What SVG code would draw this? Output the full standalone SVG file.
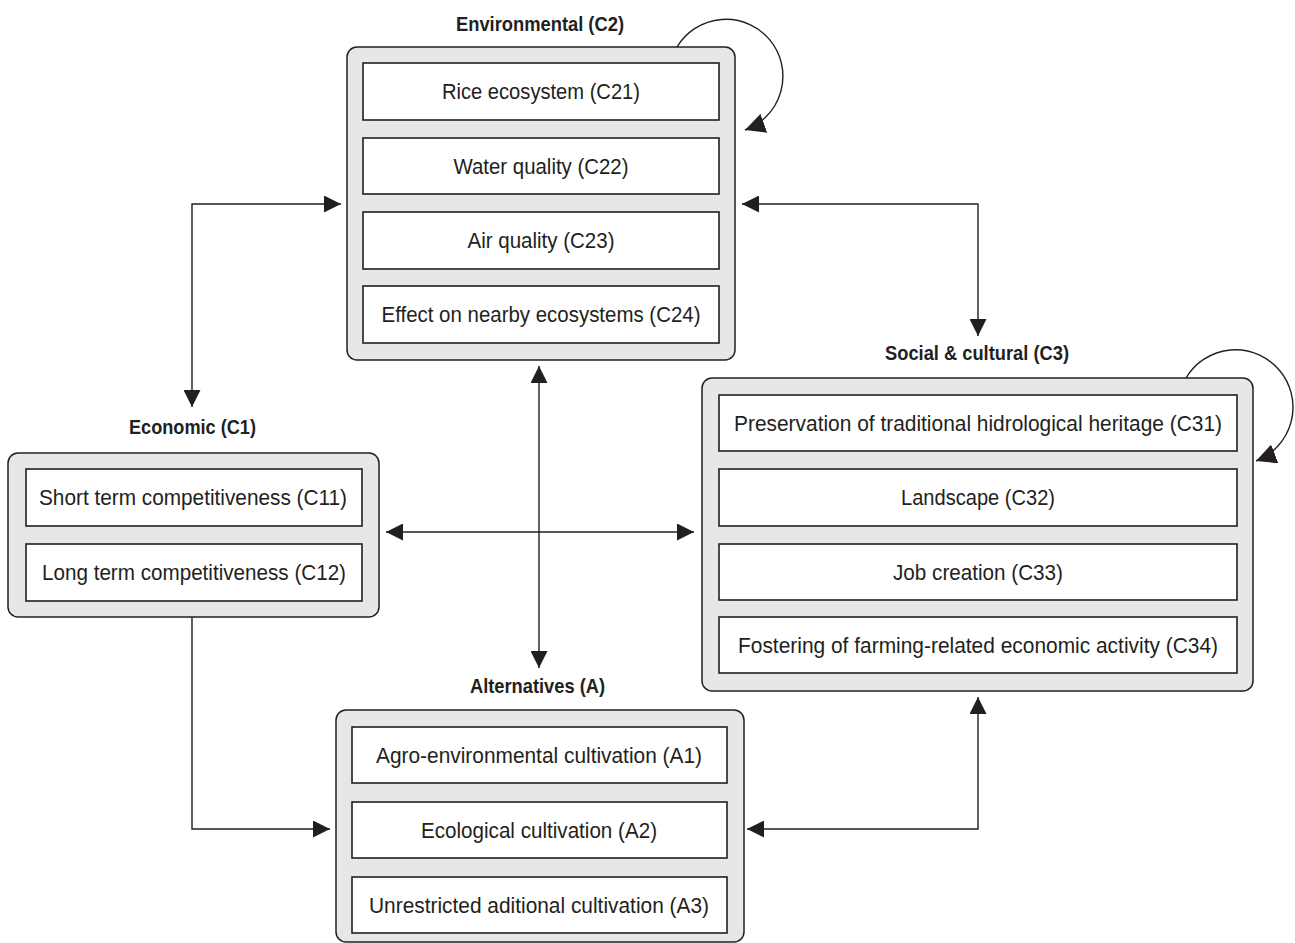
<svg xmlns="http://www.w3.org/2000/svg" width="1295" height="943" viewBox="0 0 1295 943">
<style>
.outer{fill:#e6e7e8;stroke:#231f20;stroke-width:1.5}
.inner{fill:#ffffff;stroke:#231f20;stroke-width:1.6}
.t{font-family:"Liberation Sans Narrow","Liberation Sans",Arial,sans-serif;font-size:21.5px;fill:#231f20;text-anchor:middle}
.h{font-family:"Liberation Sans Narrow","Liberation Sans",Arial,sans-serif;font-size:21px;font-weight:bold;fill:#231f20;text-anchor:middle}
.c{fill:none;stroke:#231f20;stroke-width:1.4}
</style>
<defs>
<marker id="ah" viewBox="0 0 17 17" refX="17" refY="8.5" markerWidth="17" markerHeight="17" markerUnits="userSpaceOnUse" orient="auto-start-reverse">
<path d="M0,0 L17,8.5 L0,17 z" fill="#231f20"/>
</marker>
<marker id="ahl" viewBox="0 0 17 17" refX="17" refY="8.5" markerWidth="20" markerHeight="20" markerUnits="userSpaceOnUse" orient="auto">
<path d="M0,0 L17,8.5 L0,17 z" fill="#231f20"/>
</marker>
</defs>
<rect width="1295" height="943" fill="#ffffff"/>
<g id="connectors">
<path class="c" d="M341,204 H192 V407" marker-start="url(#ah)" marker-end="url(#ah)"/>
<path class="c" d="M742,204 H978 V336" marker-start="url(#ah)" marker-end="url(#ah)"/>
<path class="c" d="M539,366 V668" marker-start="url(#ah)" marker-end="url(#ah)"/>
<path class="c" d="M386,532 H694" marker-start="url(#ah)" marker-end="url(#ah)"/>
<path class="c" d="M192,617 V829 H330" marker-end="url(#ah)"/>
<path class="c" d="M747,829 H978 V697" marker-start="url(#ah)" marker-end="url(#ah)"/>
<path class="c" d="M677,47 A57,57 0 1 1 745,130" marker-end="url(#ahl)"/>
<path class="c" d="M1186,378 A57.5,57.5 0 1 1 1256,461" marker-end="url(#ahl)"/>
</g>
<g id="C2">
<rect class="outer" x="347" y="47" width="388" height="313" rx="10"/>
<text class="h" x="540" y="31" textLength="168" lengthAdjust="spacingAndGlyphs">Environmental (C2)</text>
<rect class="inner" x="363" y="63" width="356" height="57"/>
<text class="t" x="541" y="99" textLength="198" lengthAdjust="spacingAndGlyphs">Rice ecosystem (C21)</text>
<rect class="inner" x="363" y="138" width="356" height="56"/>
<text class="t" x="541" y="173.5" textLength="175" lengthAdjust="spacingAndGlyphs">Water quality (C22)</text>
<rect class="inner" x="363" y="212" width="356" height="57"/>
<text class="t" x="541" y="248" textLength="147" lengthAdjust="spacingAndGlyphs">Air quality (C23)</text>
<rect class="inner" x="363" y="286" width="356" height="57"/>
<text class="t" x="541" y="322" textLength="319" lengthAdjust="spacingAndGlyphs">Effect on nearby ecosystems (C24)</text>
</g>
<g id="C3">
<rect class="outer" x="702" y="378" width="551" height="313" rx="10"/>
<text class="h" x="977" y="360" textLength="184" lengthAdjust="spacingAndGlyphs">Social &amp; cultural (C3)</text>
<rect class="inner" x="719" y="395" width="518" height="56"/>
<text class="t" x="978" y="430.5" textLength="488" lengthAdjust="spacingAndGlyphs">Preservation of traditional hidrological heritage (C31)</text>
<rect class="inner" x="719" y="469" width="518" height="57"/>
<text class="t" x="978" y="505" textLength="154" lengthAdjust="spacingAndGlyphs">Landscape (C32)</text>
<rect class="inner" x="719" y="544" width="518" height="56"/>
<text class="t" x="978" y="579.5" textLength="170" lengthAdjust="spacingAndGlyphs">Job creation (C33)</text>
<rect class="inner" x="719" y="617" width="518" height="56"/>
<text class="t" x="978" y="652.5" textLength="480" lengthAdjust="spacingAndGlyphs">Fostering of farming-related economic activity (C34)</text>
</g>
<g id="C1">
<rect class="outer" x="8" y="453" width="371" height="164" rx="10"/>
<text class="h" x="192.5" y="434" textLength="127" lengthAdjust="spacingAndGlyphs">Economic (C1)</text>
<rect class="inner" x="26" y="469" width="336" height="57"/>
<text class="t" x="193" y="505" textLength="308" lengthAdjust="spacingAndGlyphs">Short term competitiveness (C11)</text>
<rect class="inner" x="26" y="544" width="336" height="57"/>
<text class="t" x="194" y="580" textLength="304" lengthAdjust="spacingAndGlyphs">Long term competitiveness (C12)</text>
</g>
<g id="A">
<rect class="outer" x="336" y="710" width="408" height="232" rx="10"/>
<text class="h" x="537.5" y="693" textLength="135" lengthAdjust="spacingAndGlyphs">Alternatives (A)</text>
<rect class="inner" x="352" y="727" width="375" height="56"/>
<text class="t" x="539" y="762.5" textLength="326" lengthAdjust="spacingAndGlyphs">Agro-environmental cultivation (A1)</text>
<rect class="inner" x="352" y="802" width="375" height="56"/>
<text class="t" x="539" y="837.5" textLength="236" lengthAdjust="spacingAndGlyphs">Ecological cultivation (A2)</text>
<rect class="inner" x="352" y="877" width="375" height="56"/>
<text class="t" x="539" y="912.5" textLength="340" lengthAdjust="spacingAndGlyphs">Unrestricted aditional cultivation (A3)</text>
</g>
</svg>
